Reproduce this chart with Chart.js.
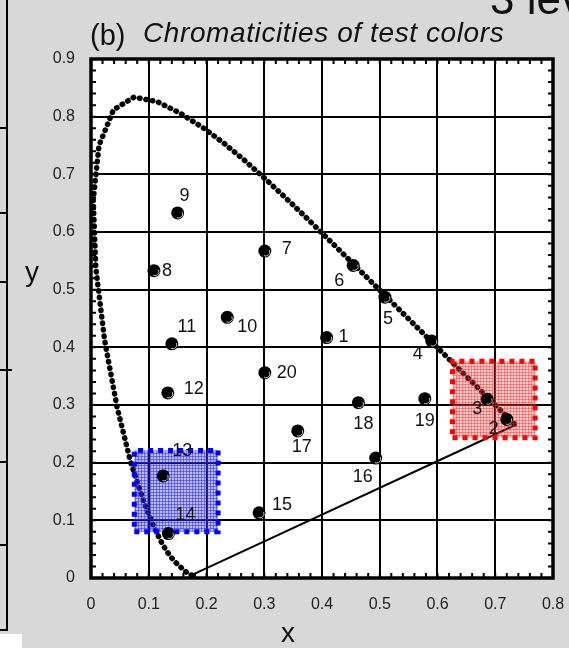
<!DOCTYPE html>
<html>
<head>
<meta charset="utf-8">
<script src="https://cdn.jsdelivr.net/npm/chart.js@4.4.1/dist/chart.umd.min.js"></script>
<style>
  body { margin: 0; background: #d8d8d8; }
  #wrap { position: relative; width: 569px; height: 648px; overflow: hidden;
          background: #d8d8d8; font-family: "Liberation Sans", Arial, sans-serif; color: #111; }
  #c { position: absolute; left: 0; top: 0; }
  .txt { position: absolute; line-height: 1; white-space: nowrap; }
</style>
</head>
<body>
<div id="wrap">
  <canvas id="c" width="569" height="648"></canvas>
  <div class="txt" style="left:490px; top:-23px; font-size:44px;">3 levels</div>
  <div class="txt" style="left:90px; top:21px; font-size:29px;">(b)</div>
  <div class="txt" style="left:143px; top:19px; font-size:28px; font-style:italic; letter-spacing:0.6px;">Chromaticities of test colors</div>
  <div class="txt" style="left:268px; top:619px; width:40px; text-align:center; font-size:28px;">x</div>
  <div class="txt" style="left:12px; top:258px; width:40px; text-align:center; font-size:28px;">y</div>
</div>
<script>
// spectrum locus (CIE 1931, 380-700 nm)
const locusX = [0.1741,0.1740,0.1738,0.1736,0.1733,0.1730,0.1726,0.1721,0.1714,0.1703,0.1689,0.1669,0.1644,0.1611,0.1566,0.1510,0.1440,0.1355,0.1241,0.1096,0.0913,0.0687,0.0454,0.0235,0.0082,0.0039,0.0139,0.0389,0.0743,0.1142,0.1547,0.1929,0.2296,0.2658,0.3016,0.3373,0.3731,0.4087,0.4441,0.4788,0.5125,0.5448,0.5752,0.6029,0.6270,0.6482,0.6658,0.6801,0.6915,0.7006,0.7079,0.7140,0.7190,0.7230,0.7260,0.7283,0.7300,0.7311,0.7320,0.7327,0.7334,0.7340,0.7344,0.7346,0.7347];
const locusY = [0.0050,0.0050,0.0049,0.0049,0.0048,0.0048,0.0048,0.0048,0.0051,0.0058,0.0069,0.0086,0.0109,0.0138,0.0177,0.0227,0.0297,0.0399,0.0578,0.0868,0.1327,0.2007,0.2950,0.4127,0.5384,0.6548,0.7502,0.8120,0.8338,0.8262,0.8059,0.7816,0.7543,0.7243,0.6923,0.6589,0.6245,0.5896,0.5547,0.5202,0.4866,0.4544,0.4242,0.3965,0.3725,0.3514,0.3340,0.3197,0.3083,0.2993,0.2920,0.2859,0.2809,0.2770,0.2740,0.2717,0.2700,0.2689,0.2680,0.2673,0.2666,0.2660,0.2656,0.2654,0.2653];

// line of purples
const purpleX = [0.1741, 0.7347];
const purpleY = [0.0050, 0.2653];

// test colors
const testLabels = ['1','2','3','4','5','6','7','8','9','10','11','12','13','14','15','16','17','18','19','20'];
const testX = [0.408,0.720,0.686,0.590,0.509,0.454,0.301,0.109,0.150,0.236,0.140,0.133,0.125,0.134,0.291,0.493,0.358,0.463,0.578,0.301];
const testY = [0.417,0.275,0.310,0.411,0.487,0.542,0.567,0.533,0.633,0.452,0.406,0.321,0.177,0.077,0.113,0.208,0.255,0.304,0.311,0.356];

// highlighted regions
const blueBoxX = [0.075, 0.220, 0.220, 0.075, 0.075];
const blueBoxY = [0.080, 0.080, 0.221, 0.221, 0.080];
const redBoxX = [0.626, 0.769, 0.769, 0.626, 0.626];
const redBoxY = [0.243, 0.243, 0.376, 0.376, 0.243];

const xTickLabels = ['0','0.1','0.2','0.3','0.4','0.5','0.6','0.7','0.8'];
const yTickLabels = ['0','0.1','0.2','0.3','0.4','0.5','0.6','0.7','0.8','0.9'];

// label placement (pixels from the dot centre)
const labelOffsets = [[17,0],[-13,10],[-10,10],[-14,13],[3,22],[-14,16],[22,-2],[13,0],[7,-17],[20,10],
                      [15,-17],[26,-4],[19,-25],[17,-19],[23,-8],[-13,19],[4,16],[5,21],[0,22],[22,0]];

const pts = (xs, ys) => xs.map((x, i) => ({ x, y: ys[i] }));

const ctx = document.getElementById('c').getContext('2d');

function hatch(rgb, a1, a2) {
  const c = document.createElement('canvas');
  c.width = 3; c.height = 3;
  const g = c.getContext('2d');
  g.fillStyle = `rgba(${rgb},${a1})`;
  g.fillRect(0, 0, 3, 3);
  g.fillStyle = `rgba(${rgb},${a2})`;
  g.fillRect(0, 0, 3, 1);
  g.fillRect(0, 0, 1, 3);
  return ctx.createPattern(c, 'repeat');
}

const FONT = '"Liberation Sans", Arial, sans-serif';

const frame = {
  id: 'frame',
  beforeDraw(chart) {
    const { ctx, chartArea: a } = chart;
    ctx.save();
    // leftover of the neighbouring panel
    ctx.strokeStyle = '#000';
    ctx.lineWidth = 2;
    ctx.beginPath();
    ctx.moveTo(7, 0); ctx.lineTo(7, 630); ctx.lineTo(0, 630);
    [128, 213, 282, 370, 462, 545].forEach(y => { ctx.moveTo(0, y); ctx.lineTo(7, y); });
    ctx.moveTo(7, 370); ctx.lineTo(12, 370);
    ctx.stroke();
    ctx.fillStyle = '#fff';
    ctx.fillRect(0, 634, 22, 14);
    // plot background
    ctx.fillRect(a.left, a.top, a.right - a.left, a.bottom - a.top);
    ctx.restore();
  },
  afterDatasetsDraw(chart) {
    const { ctx, chartArea: a, scales: { x, y } } = chart;
    ctx.save();
    // highlight on the dots
    const meta = chart.getDatasetMeta(0);
    ctx.strokeStyle = 'rgba(255,255,255,0.75)';
    ctx.lineWidth = 1;
    meta.data.forEach(p => {
      ctx.beginPath();
      ctx.arc(p.x + 1, p.y + 1, 4, -0.15 * Math.PI, 0.65 * Math.PI);
      ctx.stroke();
    });
    // point numbers
    ctx.fillStyle = '#111';
    ctx.font = `18px ${FONT}`;
    ctx.textAlign = 'center';
    ctx.textBaseline = 'middle';
    meta.data.forEach((p, i) => {
      const [dx, dy] = labelOffsets[i];
      ctx.fillText(testLabels[i], p.x + dx, p.y + dy);
    });
    // minor ticks inside the frame
    ctx.strokeStyle = '#000';
    ctx.lineWidth = 2;
    ctx.beginPath();
    for (let k = 0; k <= 40; k++) {
      const px = x.getPixelForValue(k * 0.02);
      ctx.moveTo(px, a.bottom); ctx.lineTo(px, a.bottom - 5);
      ctx.moveTo(px, a.top); ctx.lineTo(px, a.top + 5);
    }
    for (let k = 0; k <= 45; k++) {
      const py = y.getPixelForValue(k * 0.02);
      ctx.moveTo(a.left, py); ctx.lineTo(a.left + 5, py);
      ctx.moveTo(a.right, py); ctx.lineTo(a.right - 5, py);
    }
    ctx.stroke();
    ctx.lineWidth = 3.5;
    ctx.strokeRect(a.left, a.top, a.right - a.left, a.bottom - a.top);
    ctx.restore();
  }
};

new Chart(ctx, {
  type: 'scatter',
  data: {
    datasets: [
      {
        label: 'Test colors',
        data: pts(testX, testY),
        pointRadius: 6.5,
        pointHoverRadius: 6.5,
        backgroundColor: '#000',
        borderColor: '#000',
        borderWidth: 0,
        order: 0
      },
      {
        label: 'Blue region',
        data: pts(blueBoxX, blueBoxY),
        showLine: true,
        pointRadius: 0,
        borderColor: '#0000ff',
        borderWidth: 5,
        borderDash: [5, 5],
        backgroundColor: hatch('40,40,255', 0.3, 0.55),
        fill: 'shape',
        tension: 0,
        order: 1
      },
      {
        label: 'Red region',
        data: pts(redBoxX, redBoxY),
        showLine: true,
        pointRadius: 0,
        borderColor: '#ff0000',
        borderWidth: 5,
        borderDash: [5, 5],
        backgroundColor: hatch('255,40,40', 0.22, 0.45),
        fill: 'shape',
        tension: 0,
        order: 1
      },
      {
        label: 'Spectrum locus',
        data: pts(locusX, locusY),
        showLine: true,
        pointRadius: 0,
        borderColor: '#000',
        borderWidth: 5.5,
        borderDash: [0.5, 6],
        borderCapStyle: 'round',
        tension: 0,
        order: 3
      },
      {
        label: 'Purple line',
        data: pts(purpleX, purpleY),
        showLine: true,
        pointRadius: 0,
        borderColor: '#000',
        borderWidth: 2,
        tension: 0,
        order: 4
      }
    ]
  },
  options: {
    responsive: false,
    animation: false,
    devicePixelRatio: 1,
    layout: { padding: { top: 59, right: 16, left: 0, bottom: 0 } },
    plugins: {
      legend: { display: false },
      tooltip: { enabled: false }
    },
    scales: {
      x: {
        type: 'linear',
        min: 0,
        max: 0.8,
        afterFit: s => { s.height = 70; s.paddingLeft = 0; s.paddingRight = 0; },
        grid: { color: '#000', lineWidth: 2, drawTicks: false },
        border: { display: false },
        ticks: {
          stepSize: 0.1,
          padding: 17,
          maxRotation: 0,
          autoSkip: false,
          color: '#222',
          font: { family: FONT, size: 16 },
          callback: (v, i) => xTickLabels[i]
        }
      },
      y: {
        type: 'linear',
        min: 0,
        max: 0.9,
        afterFit: s => { s.width = 91; s.paddingTop = 0; s.paddingBottom = 0; },
        grid: { color: '#000', lineWidth: 2, drawTicks: false },
        border: { display: false },
        ticks: {
          stepSize: 0.1,
          padding: 16,
          autoSkip: false,
          color: '#222',
          font: { family: FONT, size: 16 },
          callback: (v, i) => yTickLabels[i]
        }
      }
    }
  },
  plugins: [frame]
});
</script>
</body>
</html>
